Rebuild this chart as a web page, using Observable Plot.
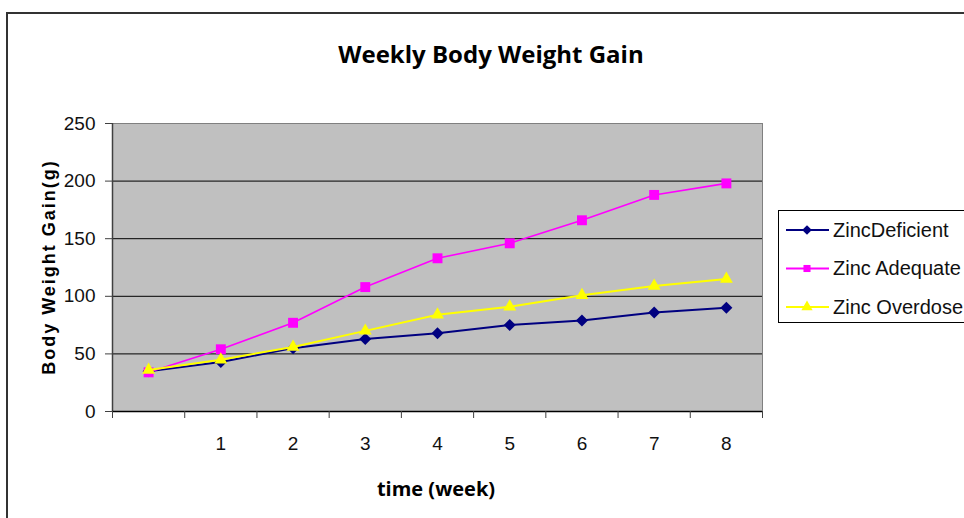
<!DOCTYPE html>
<html><head><meta charset="utf-8">
<script src="https://cdn.jsdelivr.net/npm/d3@7"></script>
<script src="https://cdn.jsdelivr.net/npm/@observablehq/plot@0.6"></script>
<style>
body{margin:0;background:#fff;}
#wrap{position:relative;width:964px;height:518px;overflow:hidden;background:#fff;}
#wrap svg{position:absolute;left:0;top:0;}
</style></head><body><div id="wrap"></div>
<script>
// ---- data ----
const weeks = [0, 1, 2, 3, 4, 5, 6, 7, 8];
const tickLabels = [1, 2, 3, 4, 5, 6, 7, 8];
const seriesNames = ["ZincDeficient", "Zinc Adequate", "Zinc Overdose"];
const zincDeficient = [35, 43, 55, 63, 68, 75, 79, 86, 90];
const zincAdequate  = [34, 54, 77, 108, 133, 146, 166, 188, 198];
const zincOverdose  = [36, 45, 56, 70, 84, 91, 101, 109, 115];
const yTicks = [0, 50, 100, 150, 200, 250];
const gridValues = [50, 100, 150, 200];
const titleText = "Weekly Body Weight Gain";
const xTitle = "time (week)";
const yTitle = "Body Weight Gain(g)";

const colors = ["#000080", "#FF00FF", "#FFFF00"];
const symbols = ["diamond2", "square", "triangle"];
const radii = [5.4, 5.6, 4.8];
const widths = [2, 1.6, 2];

const seriesValues = [zincDeficient, zincAdequate, zincOverdose];
const rows = seriesNames.map((name, i) => weeks.map((w, j) => ({series: name, week: w, value: seriesValues[i][j]})));
const boundaries = weeks.map(w => w - 0.5).concat([weeks[weeks.length - 1] + 0.5]);

const marks = [
  Plot.frame({fill: "#C0C0C0", stroke: "#808080"}),
  Plot.ruleY(gridValues, {stroke: "#000", strokeWidth: 1}),
  Plot.ruleX([boundaries[0]], {stroke: "#404040", strokeWidth: 1.5}),
  Plot.ruleY([0], {stroke: "#000", strokeWidth: 1.5}),
  Plot.axisY(yTicks, {tickSize: 7, tickPadding: 10, fontSize: 19, fill: "#111", stroke: "#404040", label: null}),
  Plot.axisX(boundaries, {tickSize: 7, tickFormat: () => "", stroke: "#404040", label: null}),
  Plot.axisX(tickLabels, {tickSize: 0, tickPadding: 25, fontSize: 19, fill: "#111", label: null})
];
rows.forEach((data, i) => {
  marks.push(Plot.line(data, {x: "week", y: "value", stroke: colors[i], strokeWidth: widths[i]}));
  marks.push(Plot.dot(data, {x: "week", y: "value", symbol: () => symbols[i], fill: colors[i], r: radii[i], stroke: "none"}));
});

const chart = Plot.plot({
  width: 964, height: 518,
  marginLeft: 112, marginRight: 202, marginTop: 123, marginBottom: 107,
  style: {fontFamily: "'Liberation Sans', Arial, sans-serif", fontSize: "19px", background: "transparent", overflow: "visible"},
  x: {type: "linear", domain: [boundaries[0], boundaries[boundaries.length - 1]]},
  y: {domain: [0, 250]},
  symbol: {type: "identity"},
  marks
});
const wrap = document.getElementById("wrap");
wrap.appendChild(chart);

// ---- overlay: border, titles, legend ----
const svg = d3.select(wrap).append("svg").attr("width", 964).attr("height", 518);
svg.append("path").attr("d", "M7,530 V13 H980").attr("fill", "none").attr("stroke", "#333").attr("stroke-width", 2);
svg.append("text").attr("x", 491).attr("y", 63).attr("text-anchor", "middle")
  .style("font-family", "'Open Sans', sans-serif").style("font-weight", 700).style("font-size", "24px")
  .text(titleText);
svg.append("text").attr("x", 436).attr("y", 496).attr("text-anchor", "middle")
  .style("font-family", "'Open Sans', sans-serif").style("font-weight", 700).style("font-size", "20px")
  .text(xTitle);
svg.append("text").attr("transform", "translate(55,267) rotate(-90)").attr("text-anchor", "middle")
  .style("font-family", "'Liberation Sans', Arial, sans-serif").style("font-weight", 700).style("font-size", "18px")
  .style("letter-spacing", "2px").text(yTitle);

const lg = svg.append("g");
lg.append("rect").attr("x", 778.5).attr("y", 210.5).attr("width", 200).attr("height", 112).attr("fill", "#fff").attr("stroke", "#000");
const legendSizes = [60, 50, 55];
seriesNames.forEach((name, i) => {
  const y = 230 + i * 38.5;
  lg.append("line").attr("x1", 786).attr("x2", 829).attr("y1", y).attr("y2", y).attr("stroke", colors[i]).attr("stroke-width", 2);
  const sym = {diamond2: d3.symbolDiamond2, square: d3.symbolSquare, triangle: d3.symbolTriangle}[symbols[i]];
  lg.append("path").attr("d", d3.symbol(sym, legendSizes[i])()).attr("transform", `translate(807,${y})`).attr("fill", colors[i]);
  lg.append("text").attr("x", 833).attr("y", y + 6.5)
    .style("font-family", "'Liberation Sans', Arial, sans-serif").style("font-size", "20px").attr("fill", "#111")
    .text(name);
});
</script></body></html>
